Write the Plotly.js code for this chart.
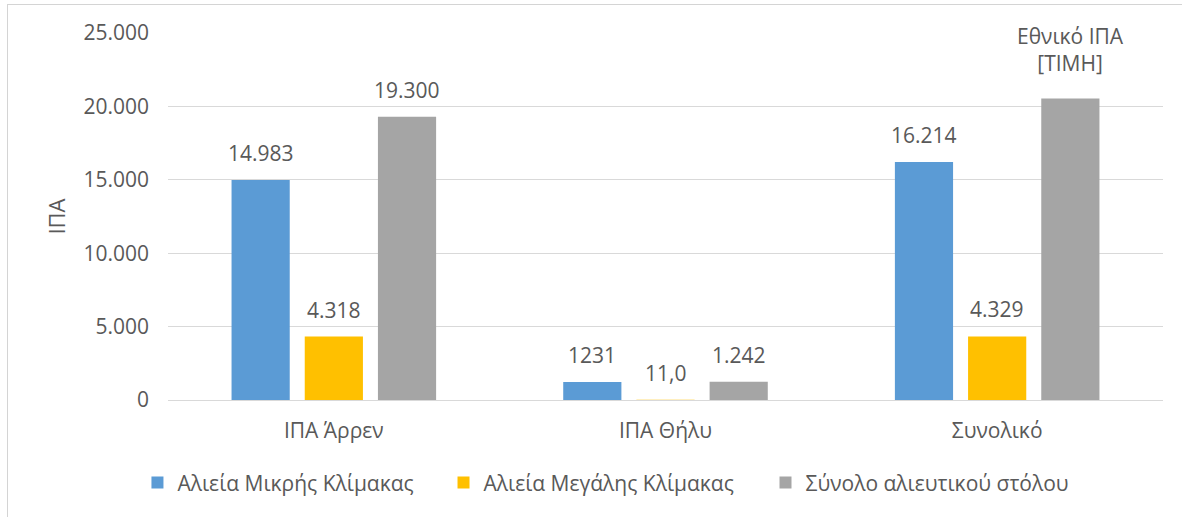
<!DOCTYPE html>
<html>
<head>
<meta charset="utf-8">
<script src="https://cdn.plot.ly/plotly-3.0.1.min.js"></script>
<style>
  html, body { margin: 0; padding: 0; background: #fff; }
  #wrap { position: relative; width: 1182px; height: 517px; overflow: hidden; }
  #chart { position: absolute; left: 0; top: 0; width: 1182px; height: 517px; }
  #frame { position: absolute; left: 7px; top: 4px; width: 1180px; height: 520px;
           border-left: 1px solid #d4d4d4; border-top: 1px solid #d4d4d4; pointer-events: none; }
</style>
</head>
<body>
<div id="wrap">
  <div id="chart"></div>
  <div id="frame"></div>
</div>
<script>
// ---- data ----
const categories = ["ΙΠΑ Άρρεν", "ΙΠΑ Θήλυ", "Συνολικό"];
const seriesNames = ["Αλιεία Μικρής Κλίμακας", "Αλιεία Μεγάλης Κλίμακας", "Σύνολο αλιευτικού στόλου"];
const smallScale = [14983, 1231, 16214];
const largeScale = [4318, 11.0, 4329];
const fleetTotal = [19300, 1242, 20543];
const smallLabels = ["14.983", "1231", "16.214"];
const largeLabels = ["4.318", "11,0", "4.329"];
const totalLabels = ["19.300", "1.242", "Εθνικό ΙΠΑ<br>[ΤΙΜΗ]"];
const yTickVals = [0, 5000, 10000, 15000, 20000, 25000];
const yTitle = "ΙΠΑ";

const colors = ["#5B9BD5", "#FFC000", "#A5A5A5"];
const textColor = "#595959";
const FONT = "'Open Sans', 'Noto Sans', sans-serif";

const values = [smallScale, largeScale, fleetTotal];
const labels = [smallLabels, largeLabels, totalLabels];

const bargap = 0.338, bargroupgap = 0.205;
const legendIds = ["legend", "legend2", "legend3"];
const legendX = [-0.0307, 0.2769, 0.6005];

const traces = values.map((v, i) => ({
  type: "bar",
  name: seriesNames[i],
  x: categories,
  y: v,
  legend: legendIds[i],
  marker: { color: colors[i] },
  hoverinfo: "x+y+name"
}));

// data labels placed at each bar via category index + group offset
const slot = (1 - bargap) / values.length;
const annotations = [];
values.forEach((v, i) => {
  v.forEach((val, j) => {
    const multi = labels[i][j].indexOf("<br>") >= 0;
    annotations.push({
      xref: "x", yref: "y",
      x: j + (i - (values.length - 1) / 2) * slot,
      y: val,
      text: labels[i][j],
      showarrow: false,
      yanchor: "bottom",
      yshift: multi ? 19 : 11,
      font: { family: FONT, size: 21, color: textColor }
    });
  });
});

const layout = {
  width: 1182, height: 517,
  margin: { l: 168, r: 19, t: 33, b: 117 },
  paper_bgcolor: "rgba(0,0,0,0)",
  plot_bgcolor: "rgba(0,0,0,0)",
  separators: ",.",
  barmode: "group",
  bargap: bargap,
  bargroupgap: bargroupgap,
  font: { family: FONT, size: 21, color: textColor },
  xaxis: {
    type: "category",
    showgrid: false,
    showline: true,
    linecolor: "#D9D9D9",
    linewidth: 1,
    ticks: "",
    ticklabelstandoff: 12,
    tickfont: { family: FONT, size: 21, color: textColor }
  },
  yaxis: {
    range: [0, 25000],
    tickvals: yTickVals,
    tickformat: ",d",
    showgrid: true,
    gridcolor: "#D9D9D9",
    gridwidth: 1,
    zeroline: false,
    showline: false,
    ticks: "",
    ticklabelstandoff: 18,
    tickfont: { family: FONT, size: 21, color: textColor },
    title: { text: yTitle, standoff: 11, font: { family: FONT, size: 22, color: textColor } },
    fixedrange: true
  },
  showlegend: true,
  annotations: annotations
};
legendIds.forEach((id, i) => {
  layout[id] = {
    orientation: "h",
    x: legendX[i], xanchor: "left",
    y: -0.226, yanchor: "middle",
    font: { family: FONT, size: 21, color: textColor },
    itemwidth: 30,
    bgcolor: "rgba(0,0,0,0)"
  };
});

Plotly.newPlot("chart", traces, layout, { displayModeBar: false, staticPlot: true });
</script>
</body>
</html>
